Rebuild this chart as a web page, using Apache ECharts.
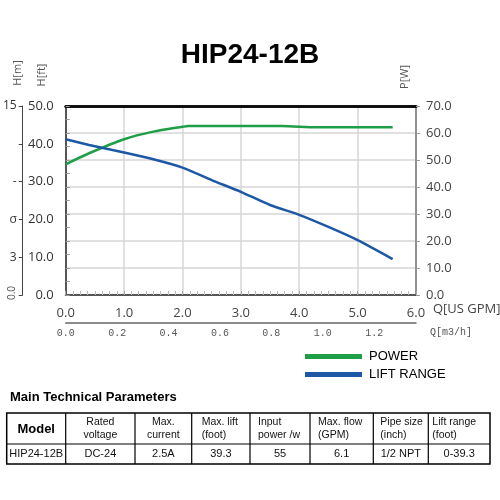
<!DOCTYPE html>
<html>
<head>
<meta charset="utf-8">
<script src="https://cdn.jsdelivr.net/npm/echarts@6/dist/echarts.min.js"></script>
<style>html,body{margin:0;padding:0;background:#fff}#c{width:500px;height:500px}</style>
</head>
<body>
<div id="c"></div>
<script>
// ---- data ----
var chartTitle = 'HIP24-12B';
var liftFlow = [0, 0.4, 0.6, 1.0, 1.5, 2.0, 2.5, 3.0, 3.5, 4.0, 4.5, 5.0, 5.6];
var liftFt   = [41.2, 39.7, 39.0, 37.7, 35.9, 33.7, 30.4, 27.3, 23.8, 21.2, 18.0, 14.5, 9.5];
var powerFlow = [0, 0.4, 1.0, 1.5, 2.0, 2.1, 3.7, 4.3, 5.6];
var powerW    = [48.4, 52.5, 57.7, 60.5, 62.3, 62.6, 62.6, 62.1, 62.1];
var meterLabels = {0: '', 3: '3', 6: 'σ', 9: '-', 12: '', 15: '15'};
var legendNames = ['POWER', 'LIFT RANGE'];
var tableTitle = 'Main Technical Parameters';
var tableHeaders = ['Model', 'Rated\nvoltage', 'Max.\ncurrent', 'Max. lift\n(foot)', 'Input\npower /w', 'Max. flow\n(GPM)', 'Pipe size\n(inch)', 'Lift range\n(foot)'];
var tableRow = ['HIP24-12B', 'DC-24', '2.5A', '39.3', '55', '6.1', '1/2 NPT', '0-39.3'];
var GPM_PER_M3H = 4.4029;

// ---- layout ----
var GL = 65.7, GR = 416, GT = 106, GB = 295;
var green = '#1f9e48', blue = '#1d58a6';
var grayTxt = '#444';
var labelFont = 'Open Sans';

var graphics = [];
function txt(t, x, y, o) {
  o = o || {};
  graphics.push({
    type: 'text', x: x, y: y, rotation: o.rot || 0,
    style: {
      text: t, x: 0, y: 0, align: o.align || 'left', verticalAlign: o.va || 'middle',
      fontSize: o.size || 12, fontFamily: o.family || 'Liberation Sans',
      fontWeight: o.weight || 'normal', fill: o.fill || '#000', lineHeight: o.lh || undefined
    }
  });
}
// title
txt(chartTitle, 250, 55, {align: 'center', size: 28, weight: 'bold', family: 'Liberation Sans'});
// axis names
txt('H[m]', 18, 73, {rot: Math.PI / 2, align: 'center', size: 11, fill: '#555', family: labelFont});
txt('H[ft]', 42, 75, {rot: Math.PI / 2, align: 'center', size: 11, fill: '#555', family: labelFont});
txt('P[W]', 405, 77, {rot: Math.PI / 2, align: 'center', size: 11, fill: '#555', family: labelFont});
txt('0.0', 12, 293, {rot: Math.PI / 2, align: 'center', size: 10, fill: '#555', family: labelFont});
txt('Q[US GPM]', 433, 309, {size: 13, fill: grayTxt, family: labelFont});
txt('Q[m3/h]', 430, 332, {size: 10, fill: '#555', family: 'Liberation Mono'});
// table title
txt(tableTitle, 10, 397, {size: 13, weight: 'bold'});
// table
var cols = [6.7, 65.7, 135, 191.7, 250, 310, 373.3, 428.3, 490];
var headPad = [null, null, null, 10, 8, 8, 7, 4];
var tTop = 413, tMid = 444, tBot = 464;
graphics.push({type: 'rect', shape: {x: cols[0], y: tTop, width: cols[8] - cols[0], height: tBot - tTop},
  style: {fill: 'none', stroke: '#000', lineWidth: 1.5}});
graphics.push({type: 'line', shape: {x1: cols[0], y1: tMid, x2: cols[8], y2: tMid}, style: {stroke: '#000', lineWidth: 1.2}});
for (var i = 1; i < cols.length - 1; i++) {
  graphics.push({type: 'line', shape: {x1: cols[i], y1: tTop, x2: cols[i], y2: tBot}, style: {stroke: '#000', lineWidth: 1.2}});
}
for (var j = 0; j < tableHeaders.length; j++) {
  var cx = (cols[j] + cols[j + 1]) / 2;
  if (j === 0) {
    txt(tableHeaders[j], cx, (tTop + tMid) / 2 + 1, {align: 'center', size: 13, weight: 'bold'});
  } else if (headPad[j] !== null) {
    txt(tableHeaders[j], cols[j] + headPad[j], (tTop + tMid) / 2, {align: 'left', size: 10.5, lh: 13, fill: '#111'});
  } else {
    txt(tableHeaders[j], cx, (tTop + tMid) / 2, {align: 'center', size: 10.5, lh: 13, fill: '#111'});
  }
  txt(tableRow[j], cx, (tMid + tBot) / 2, {align: 'center', size: 11, fill: '#111'});
}

function toXY(xs, ys) { return xs.map(function (x, i) { return [x, ys[i]]; }); }

var chart = echarts.init(document.getElementById('c'), null, {renderer: 'canvas'});
chart.setOption({
  animation: false,
  backgroundColor: '#fff',
  grid: {left: GL, right: 500 - GR, top: GT, bottom: 500 - GB, containLabel: false},
  legend: {
    data: legendNames.map(function (n) { return {name: n, icon: 'rect'}; }),
    orient: 'vertical', left: 300, top: 345, itemWidth: 57, itemHeight: 5, itemGap: 5,
    textStyle: {fontFamily: 'Liberation Sans', fontSize: 13, color: '#000', padding: [0, 0, 0, 2]}
  },
  xAxis: [
    {type: 'value', min: 0, max: 6, interval: 1, position: 'bottom',
     axisLine: {show: true, onZero: false, lineStyle: {color: '#555', width: 2}},
     axisTick: {show: true, inside: true, length: 4, lineStyle: {color: '#aaa', width: 1}},
     minorTick: {show: true, splitNumber: 8, length: 4, lineStyle: {color: '#bbb', width: 1}},
     axisLabel: {formatter: function (v) { return v.toFixed(1); }, margin: 12, color: grayTxt, fontSize: 13, fontFamily: labelFont},
     splitLine: {show: true, lineStyle: {color: '#d6d6d6', width: 1.5}}},
    {type: 'value', min: 0, max: 6 / GPM_PER_M3H, interval: 0.2, position: 'bottom', offset: 28,
     axisLine: {show: true, onZero: false, lineStyle: {color: '#666', width: 1.5}},
     axisTick: {show: false},
     axisLabel: {formatter: function (v) { return v.toFixed(1); }, margin: 5, color: '#555', fontSize: 10,
       fontFamily: 'Liberation Mono', showMaxLabel: false},
     splitLine: {show: false}},
    {type: 'value', min: 0, max: 6, position: 'top',
     axisLine: {show: true, onZero: false, lineStyle: {color: '#111', width: 3}},
     axisTick: {show: false}, axisLabel: {show: false}, splitLine: {show: false}}
  ],
  yAxis: [
    {type: 'value', min: 0, max: 50, interval: 10, position: 'left',
     axisLine: {show: true, onZero: false, lineStyle: {color: '#555', width: 2}},
     axisTick: {show: false},
     axisLabel: {formatter: function (v) { return v.toFixed(1); }, margin: 12, color: '#333', fontSize: 13, fontFamily: labelFont},
     splitLine: {show: false}},
    {type: 'value', min: 0, max: 70, interval: 10, position: 'right',
     axisLine: {show: true, onZero: false, lineStyle: {color: '#777', width: 1.5}},
     axisTick: {show: true, length: 4, lineStyle: {color: '#999'}},
     axisLabel: {formatter: function (v) { return v.toFixed(1); }, margin: 10, color: grayTxt, fontSize: 13, fontFamily: labelFont},
     splitLine: {show: true, lineStyle: {color: '#d6d6d6', width: 1.5}}},
    {type: 'value', min: 0, max: 15, interval: 3, position: 'left', offset: GL - 22.7,
     axisLine: {show: true, onZero: false, lineStyle: {color: '#444', width: 1}},
     axisTick: {show: true, length: 4, lineStyle: {color: '#444'}},
     axisLabel: {formatter: function (v) { return meterLabels[v] !== undefined ? meterLabels[v] : ''; }, margin: 6,
       color: '#333', fontSize: 12, fontFamily: labelFont},
     splitLine: {show: false}},
    {type: 'value', min: 0, max: 70, interval: 5, position: 'left',
     axisLine: {show: false, onZero: false},
     axisTick: {show: true, inside: true, length: 4, lineStyle: {color: '#999'}},
     axisLabel: {show: false}, splitLine: {show: false}}
  ],
  series: [
    {name: legendNames[0], type: 'line', xAxisIndex: 0, yAxisIndex: 1, data: toXY(powerFlow, powerW),
     showSymbol: false, smooth: 0.25, lineStyle: {color: green, width: 2.5}, itemStyle: {color: green}, z: 3},
    {name: legendNames[1], type: 'line', xAxisIndex: 0, yAxisIndex: 0, data: toXY(liftFlow, liftFt),
     showSymbol: false, smooth: 0.2, lineStyle: {color: blue, width: 2.5}, itemStyle: {color: blue}, z: 4}
  ],
  graphic: graphics
});
</script>
</body>
</html>
